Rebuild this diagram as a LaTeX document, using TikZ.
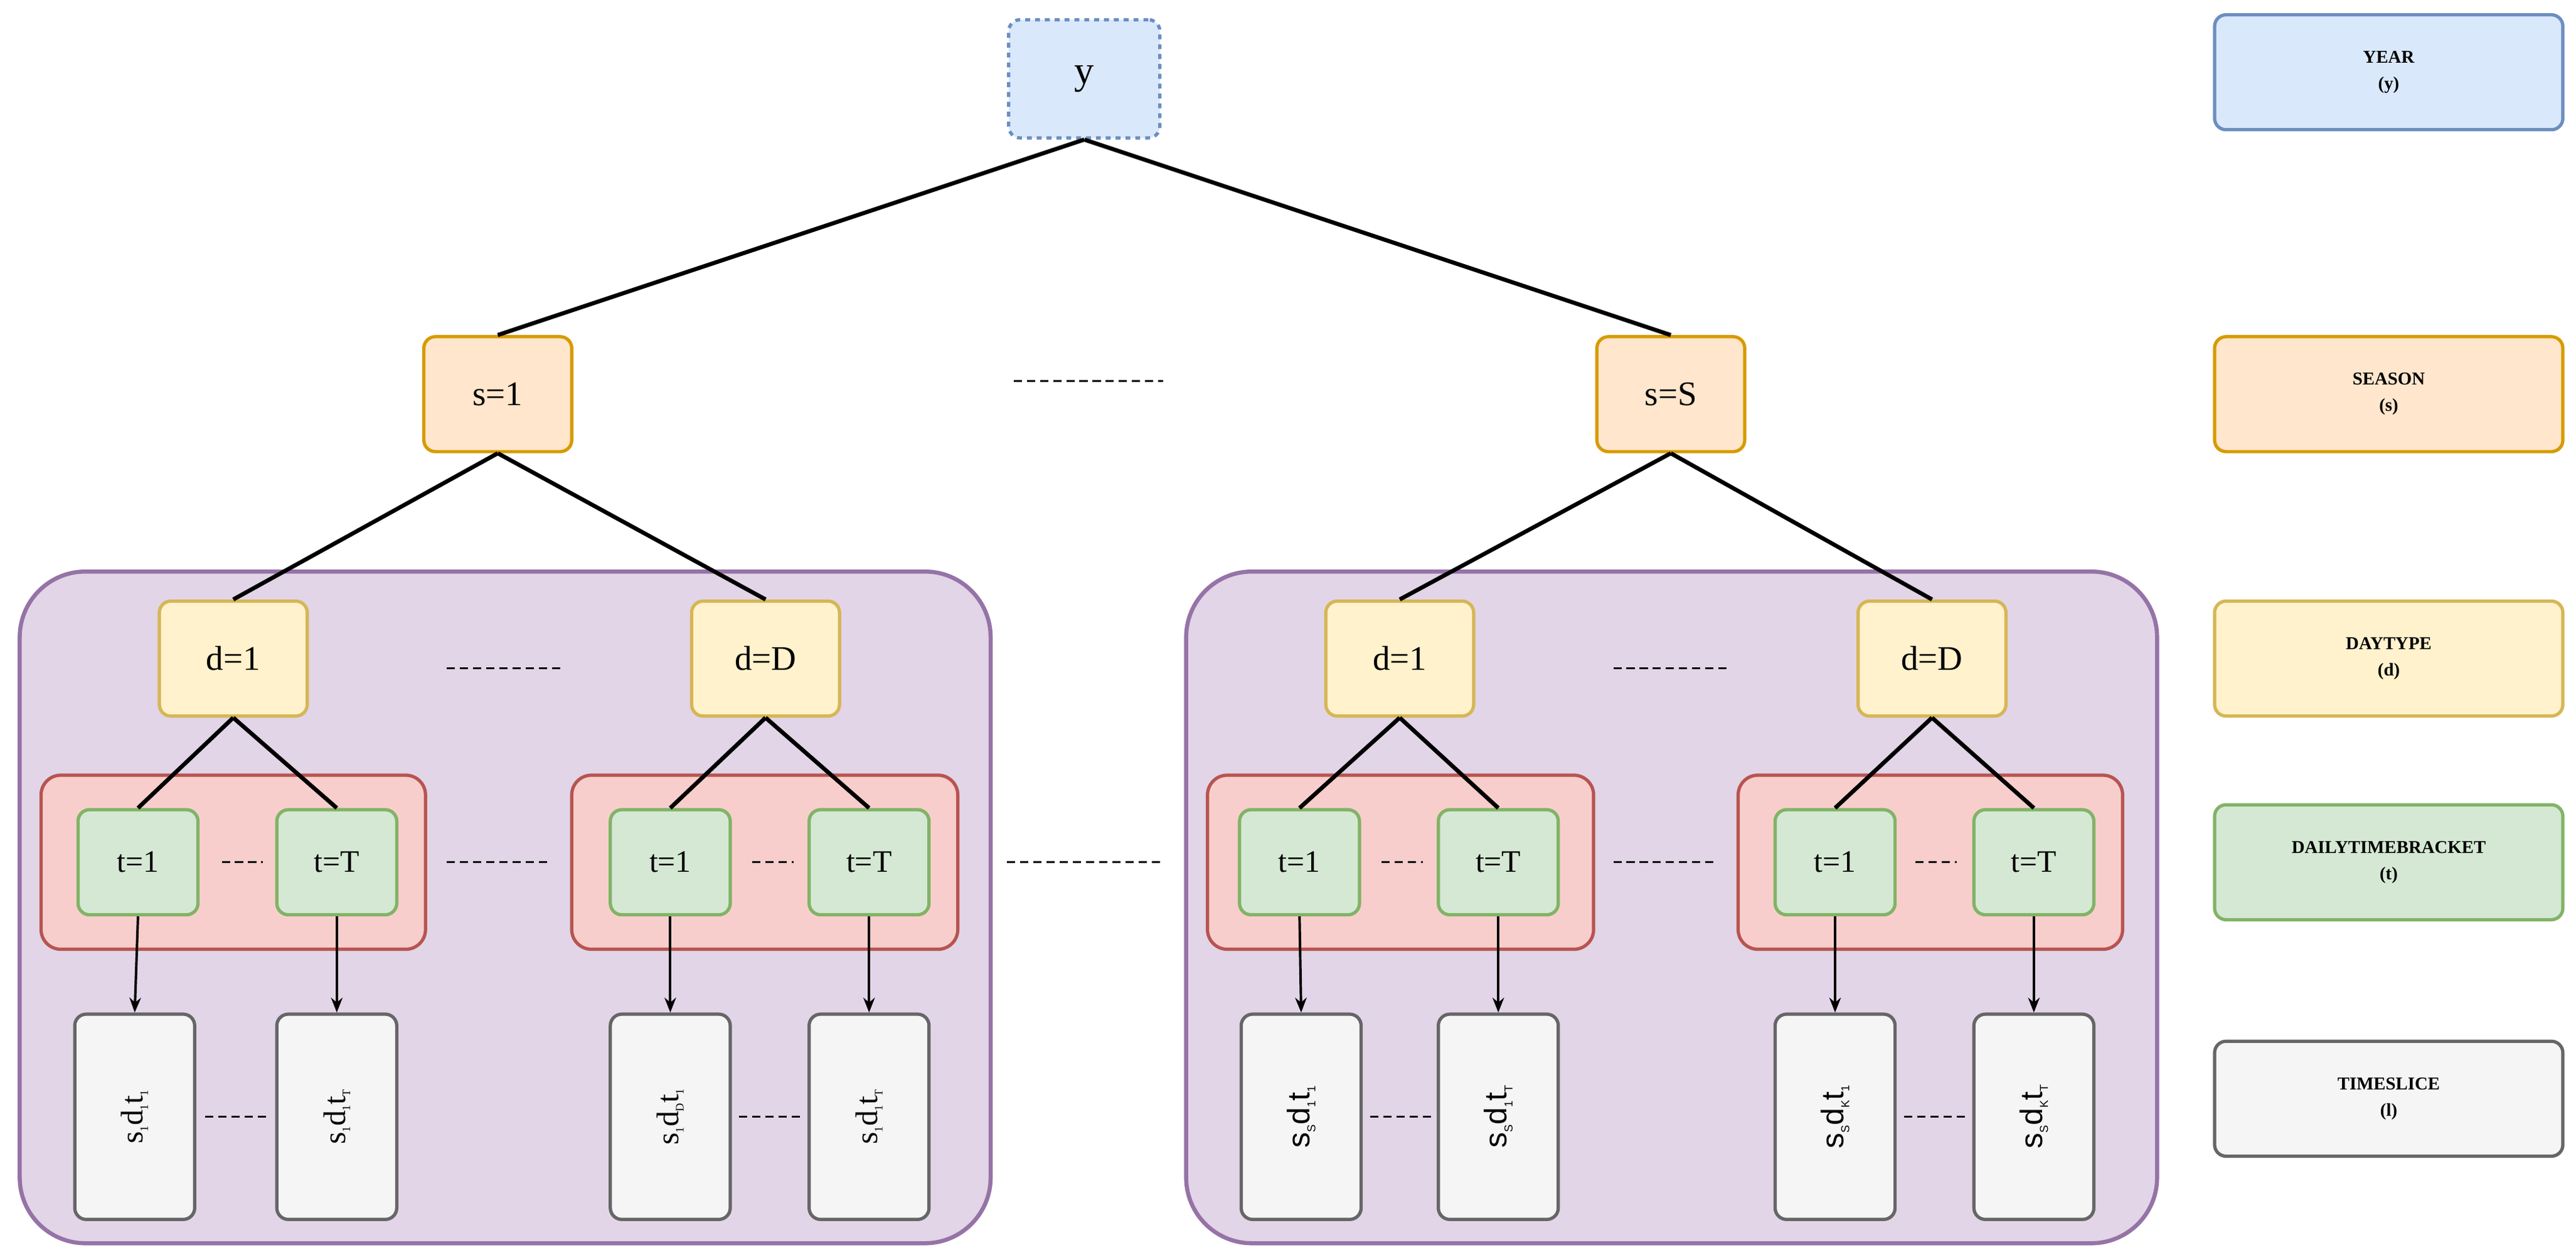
\documentclass[tikz,border=0pt]{standalone}
\usetikzlibrary{arrows.meta}
\usepackage{fontspec}
\setmainfont{Liberation Serif}
\newfontfamily\sansf{Liberation Sans}
\newcommand{\lsub}[1]{\raisebox{-0.35ex}{\scriptsize #1}}
\begin{document}
\begin{tikzpicture}[x=1pt,y=-1pt,
  box/.style={draw,rounded corners=7pt,line width=2pt,align=center,inner sep=0pt},
  yr/.style={box,fill={rgb,255:red,218;green,232;blue,252},draw={rgb,255:red,108;green,142;blue,191},minimum width=92,minimum height=72,dashed,font=\fontsize{24}{28}\selectfont},
  se/.style={box,fill={rgb,255:red,255;green,230;blue,204},draw={rgb,255:red,215;green,155;blue,0},minimum width=90,minimum height=70,font=\fontsize{21}{25}\selectfont},
  dt/.style={box,fill={rgb,255:red,255;green,242;blue,204},draw={rgb,255:red,214;green,182;blue,86},minimum width=90,minimum height=70,font=\fontsize{21}{25}\selectfont},
  tb/.style={box,fill={rgb,255:red,213;green,232;blue,212},draw={rgb,255:red,130;green,179;blue,102},minimum width=73,minimum height=64,font=\fontsize{19}{23}\selectfont},
  ts/.style={box,fill={rgb,255:red,245;green,245;blue,245},draw={rgb,255:red,102;green,102;blue,102},minimum width=73,minimum height=125,font=\fontsize{19}{23}\selectfont},
  grp/.style={draw={rgb,255:red,150;green,115;blue,166},fill={rgb,255:red,225;green,213;blue,231},line width=2.5pt,rounded corners=40pt},
  red/.style={draw={rgb,255:red,184;green,84;blue,80},fill={rgb,255:red,248;green,206;blue,204},line width=2pt,rounded corners=12pt},
  lg/.style={box,minimum width=212,minimum height=70,font=\bfseries\fontsize{11}{16}\selectfont},
  ln/.style={line width=2.5pt},
  ar/.style={line width=1.5pt,-{Stealth[length=9pt,width=7pt]}},
  dl/.style={line width=1.3pt,dash pattern=on 5pt off 3pt}
]
\useasboundingbox (0,0) rectangle (1568,767);
% groups
\path[grp] (12,348) rectangle (603,757);
\path[grp] (722,348) rectangle (1313,757);
\path[red] (25,472) rectangle (259,578);
\path[red] (348,472) rectangle (583,578);
\path[red] (735,472) rectangle (970,578);
\path[red] (1058,472) rectangle (1292,578);
% nodes
\node[yr] (y) at (660,48) {y};
\node[se] (s1) at (303,240) {s=1};
\node[se] (sS) at (1017,240) {s=S};
\node[dt] (d1a) at (142,401) {d=1};
\node[dt] (dDa) at (466,401) {d=D};
\node[dt] (d1b) at (852,401) {d=1};
\node[dt] (dDb) at (1176,401) {d=D};
\foreach \n/\x/\l in {t1/84/t=1,t2/205/t=T,t3/408/t=1,t4/529/t=T,t5/791/t=1,t6/912/t=T,t7/1117/t=1,t8/1238/t=T}
  \node[tb] (\n) at (\x,525) {\l};
\node[ts] (l1) at (82,680) {\rotatebox{90}{s\lsub{1}d\lsub{1}t\lsub{1}}};
\node[ts] (l2) at (205,680) {\rotatebox{90}{s\lsub{1}d\lsub{1}t\lsub{T}}};
\node[ts] (l3) at (408,680) {\rotatebox{90}{s\lsub{1}d\lsub{D}t\lsub{1}}};
\node[ts] (l4) at (529,680) {\rotatebox{90}{s\lsub{1}d\lsub{1}t\lsub{T}}};
\node[ts] (l5) at (792,680) {\rotatebox{90}{\sansf s\lsub{S}d\lsub{1}t\lsub{1}}};
\node[ts] (l6) at (912,680) {\rotatebox{90}{\sansf s\lsub{S}d\lsub{1}t\lsub{T}}};
\node[ts] (l7) at (1117,680) {\rotatebox{90}{\sansf s\lsub{S}d\lsub{K}t\lsub{1}}};
\node[ts] (l8) at (1238,680) {\rotatebox{90}{\sansf s\lsub{S}d\lsub{K}t\lsub{T}}};
% edges
\draw[ln] (y.south) -- (s1.north);
\draw[ln] (y.south) -- (sS.north);
\draw[ln] (s1.south) -- (d1a.north);
\draw[ln] (s1.south) -- (dDa.north);
\draw[ln] (sS.south) -- (d1b.north);
\draw[ln] (sS.south) -- (dDb.north);
\draw[ln] (d1a.south) -- (t1.north); \draw[ln] (d1a.south) -- (t2.north);
\draw[ln] (dDa.south) -- (t3.north); \draw[ln] (dDa.south) -- (t4.north);
\draw[ln] (d1b.south) -- (t5.north); \draw[ln] (d1b.south) -- (t6.north);
\draw[ln] (dDb.south) -- (t7.north); \draw[ln] (dDb.south) -- (t8.north);
\foreach \i in {1,...,8} \draw[ar] (t\i.south) -- (l\i.north);
% dots
\coordinate (a1) at (617,232); \coordinate (a2) at (708,232); \draw[dl] (a1) -- (a2);
\coordinate (b1) at (272,407); \coordinate (b2) at (343,407); \draw[dl] (b1) -- (b2);
\coordinate (b3) at (982,407); \coordinate (b4) at (1053,407); \draw[dl] (b3) -- (b4);
\coordinate (c1) at (135,525); \coordinate (c2) at (160,525); \draw[dl] (c1) -- (c2);
\coordinate (c3) at (458,525); \coordinate (c4) at (483,525); \draw[dl] (c3) -- (c4);
\coordinate (c5) at (841,525); \coordinate (c6) at (866,525); \draw[dl] (c5) -- (c6);
\coordinate (c7) at (1166,525); \coordinate (c8) at (1191,525); \draw[dl] (c7) -- (c8);
\coordinate (e1) at (272,525); \coordinate (e2) at (335,525); \draw[dl] (e1) -- (e2);
\coordinate (e3) at (982,525); \coordinate (e4) at (1045,525); \draw[dl] (e3) -- (e4);
\coordinate (f1) at (613,525); \coordinate (f2) at (706,525); \draw[dl] (f1) -- (f2);
\coordinate (g1) at (125,680); \coordinate (g2) at (162,680); \draw[dl] (g1) -- (g2);
\coordinate (g3) at (450,680); \coordinate (g4) at (487,680); \draw[dl] (g3) -- (g4);
\coordinate (g5) at (834,680); \coordinate (g6) at (871,680); \draw[dl] (g5) -- (g6);
\coordinate (g7) at (1159,680); \coordinate (g8) at (1196,680); \draw[dl] (g7) -- (g8);
% legend
\node[lg,fill={rgb,255:red,218;green,232;blue,252},draw={rgb,255:red,108;green,142;blue,191}] (lgy) at (1454,44) {YEAR\\(y)};
\node[lg,fill={rgb,255:red,255;green,230;blue,204},draw={rgb,255:red,215;green,155;blue,0}] (lgs) at (1454,240) {SEASON\\(s)};
\node[lg,fill={rgb,255:red,255;green,242;blue,204},draw={rgb,255:red,214;green,182;blue,86}] (lgd) at (1454,401) {DAYTYPE\\(d)};
\node[lg,fill={rgb,255:red,213;green,232;blue,212},draw={rgb,255:red,130;green,179;blue,102}] (lgt) at (1454,525) {DAILYTIMEBRACKET\\(t)};
\node[lg,fill={rgb,255:red,245;green,245;blue,245},draw={rgb,255:red,102;green,102;blue,102}] (lgl) at (1454,669) {TIMESLICE\\(l)};
\end{tikzpicture}
\end{document}
